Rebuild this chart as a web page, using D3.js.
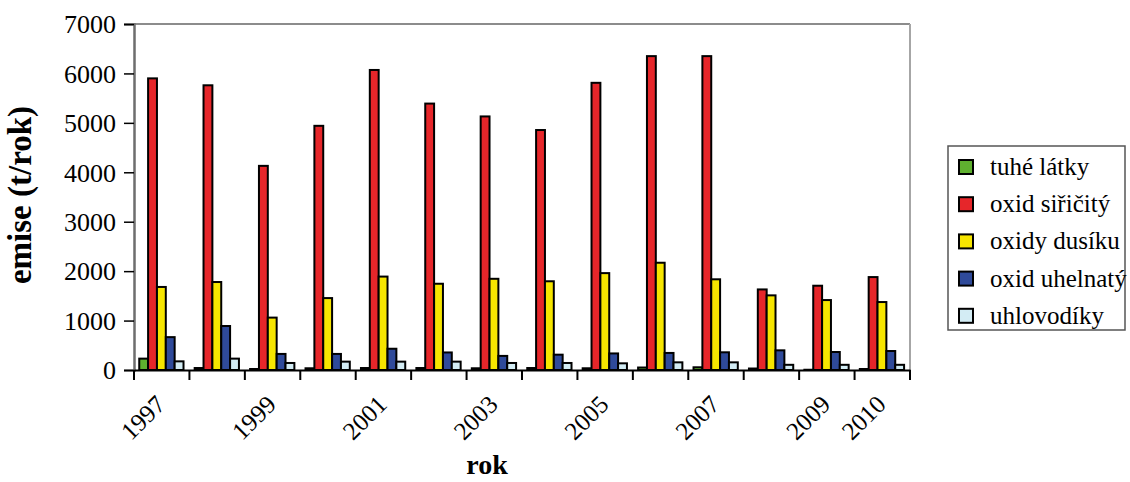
<!DOCTYPE html>
<html>
<head>
<meta charset="utf-8">
<script src="https://cdn.jsdelivr.net/npm/d3@7/dist/d3.min.js"></script>
<style>
  html, body { margin: 0; padding: 0; background: #fff; }
  svg { display: block; }
</style>
</head>
<body>
<svg id="chart" width="1130" height="482"></svg>
<script>
// Roční emise znečišťujících látek (t/rok)
const years = ["1997","1998","1999","2000","2001","2002","2003","2004","2005","2006","2007","2008","2009","2010"];
const seriesNames = ["tuhé látky","oxid siřičitý","oxidy dusíku","oxid uhelnatý","uhlovodíky"];
const seriesColors = ["#5fb02f","#e6262a","#f6e500","#2f4a9a","#d3ecf4"];

const tuheLatky    = [230, 40, 20, 35, 40, 40, 35, 40, 35, 50, 55, 30, 5, 20];
const oxidSiricity = [5900, 5760, 4130, 4940, 6070, 5390, 5130, 4855, 5810, 6350, 6350, 1630, 1705, 1880];
const oxidyDusiku  = [1680, 1780, 1060, 1455, 1890, 1745, 1845, 1795, 1960, 2170, 1835, 1510, 1415, 1375];
const oxidUhelnaty = [665, 890, 325, 325, 430, 355, 285, 310, 335, 345, 358, 398, 364, 384];
const uhlovodiky   = [175, 230, 142, 169, 169, 169, 142, 142, 135, 155, 155, 105, 105, 105];

const yTicks = [0, 1000, 2000, 3000, 4000, 5000, 6000, 7000];
const xLabels = ["1997","1999","2001","2003","2005","2007","2009","2010"];

const seriesValues = [tuheLatky, oxidSiricity, oxidyDusiku, oxidUhelnaty, uhlovodiky];

const FONT = "'Liberation Serif', Tinos, 'Times New Roman', 'Nimbus Roman', 'DejaVu Serif', serif";

const svg = d3.select("#chart").attr("font-family", FONT);
const plot = { left: 134, right: 910, top: 24, bottom: 370 };

const x0 = d3.scaleBand().domain(years).range([plot.left, plot.right]).padding(0);
const x1 = d3.scaleBand().domain(seriesNames).range([0, x0.bandwidth()])
  .paddingInner(0).paddingOuter(0.63).align(0.47);
const y = d3.scaleLinear().domain([0, 7000]).range([plot.bottom, plot.top]);

// plot frame: grey top and right edges
svg.append("line").attr("x1", plot.left).attr("x2", plot.right)
  .attr("y1", plot.top).attr("y2", plot.top)
  .attr("stroke", "#8c8c8c").attr("stroke-width", 2);
svg.append("line").attr("x1", plot.right).attr("x2", plot.right)
  .attr("y1", plot.top).attr("y2", plot.bottom)
  .attr("stroke", "#a6a6a6").attr("stroke-width", 2);

// bars
const rows = years.map((yr, i) => ({ year: yr, values: seriesNames.map((s, k) => ({ key: s, k, v: seriesValues[k][i] })) }));
const groups = svg.append("g").selectAll("g").data(rows).join("g")
  .attr("transform", d => `translate(${x0(d.year)},0)`);
groups.selectAll("rect").data(d => d.values).join("rect")
  .attr("x", d => x1(d.key))
  .attr("y", d => y(d.v))
  .attr("width", x1.bandwidth())
  .attr("height", d => y(0) - y(d.v))
  .attr("fill", d => seriesColors[d.k])
  .attr("stroke", "#000")
  .attr("stroke-width", 2);

// y axis
const yAxis = d3.axisLeft(y).tickValues(yTicks).tickSize(10).tickPadding(8).tickFormat(d3.format("d"));
const gy = svg.append("g").attr("transform", `translate(${plot.left},0)`).call(yAxis)
  .attr("font-family", FONT).attr("font-size", 26);
gy.select(".domain").attr("stroke", "#6e6e6e").attr("stroke-width", 2.5);
gy.selectAll(".tick line").attr("stroke", "#000").attr("stroke-width", 1.5);
gy.selectAll(".tick text").attr("fill", "#000").attr("dy", "0.34em");

// x axis: baseline and ticks at category boundaries
const gx = svg.append("g").attr("transform", `translate(0,${plot.bottom})`)
  .call(d3.axisBottom(x0).tickSize(0).tickFormat(""));
gx.select(".domain").attr("stroke", "#000").attr("stroke-width", 2);
gx.selectAll(".tick").remove();
const bounds = years.map(d => x0(d)).concat([plot.right]);
gx.selectAll("line.bound").data(bounds).join("line").attr("class", "bound")
  .attr("x1", d => d).attr("x2", d => d).attr("y1", 0).attr("y2", 10)
  .attr("stroke", "#000").attr("stroke-width", 2);

// rotated year labels
svg.append("g").attr("font-size", 25).selectAll("text").data(xLabels).join("text")
  .attr("transform", d => `translate(${x0(d) + x0.bandwidth() / 2 + 5},${406}) rotate(-45)`)
  .attr("text-anchor", "end")
  .text(d => d);

// axis titles
svg.append("text")
  .attr("x", 487).attr("y", 474)
  .attr("text-anchor", "middle")
  .attr("font-size", 28).attr("font-weight", "bold")
  .text("rok");
svg.append("text")
  .attr("transform", `translate(31,${(plot.top + plot.bottom) / 2 - 2}) rotate(-90)`)
  .attr("text-anchor", "middle")
  .attr("font-size", 33).attr("font-weight", "bold")
  .text("emise (t/rok)");

// legend
const legend = svg.append("g").attr("transform", "translate(948,146)");
legend.append("rect").attr("width", 177).attr("height", 184)
  .attr("fill", "#fff").attr("stroke", "#555").attr("stroke-width", 1.5);
const items = legend.selectAll("g").data(seriesNames).join("g")
  .attr("transform", (d, i) => `translate(0,${21 + i * 37.2})`);
items.append("rect").attr("x", 11).attr("y", -7).attr("width", 14).attr("height", 14)
  .attr("fill", (d, i) => seriesColors[i]).attr("stroke", "#000").attr("stroke-width", 2);
items.append("text").attr("x", 42).attr("y", 8)
  .attr("font-size", 25)
  .text(d => d);
</script>
</body>
</html>
